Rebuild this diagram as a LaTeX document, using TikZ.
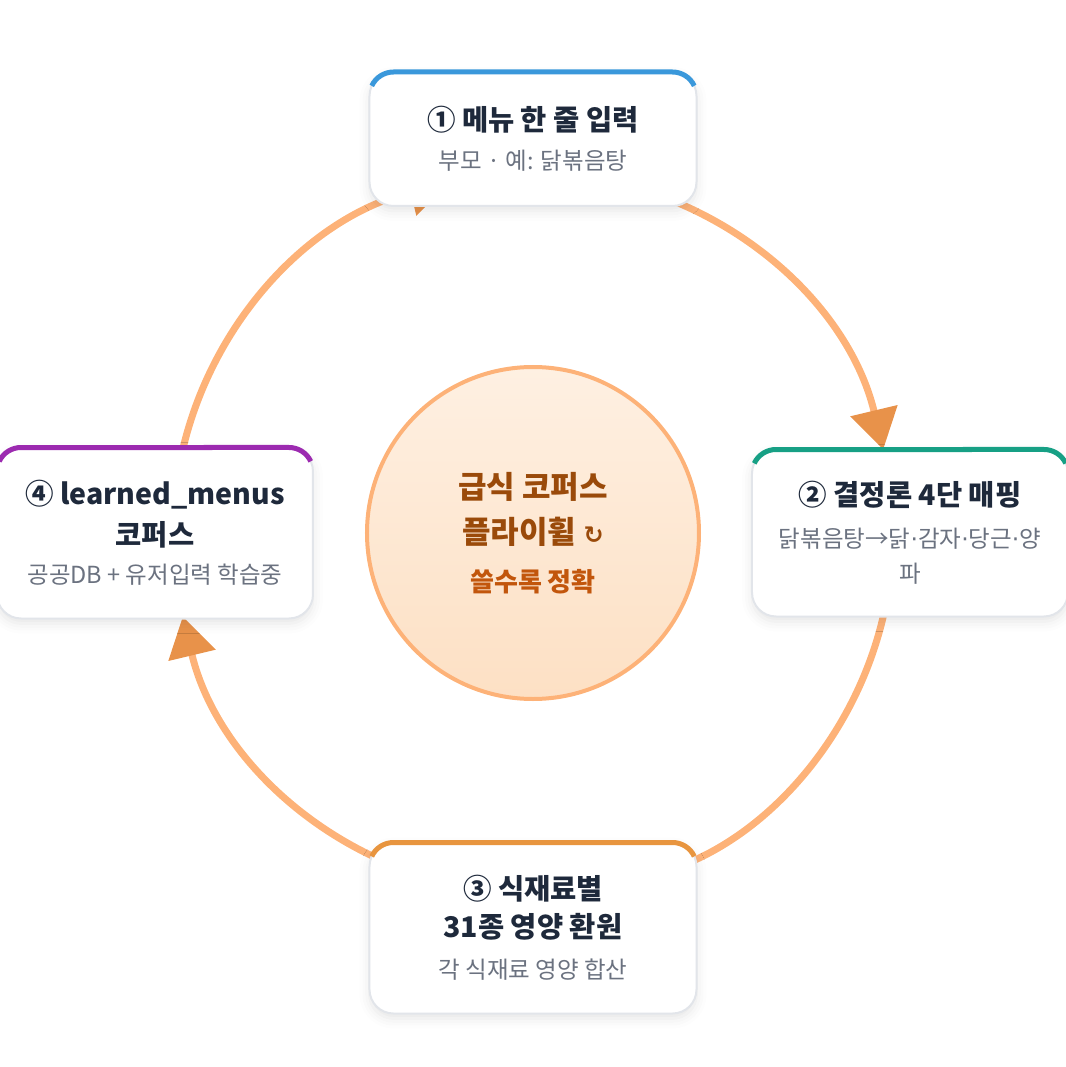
\documentclass[tikz,border=0pt]{standalone}
\usepackage{fontspec}
\setmainfont{Noto Sans CJK KR}
\newfontfamily\symfont{DejaVu Sans}
\usetikzlibrary{arrows.meta, shadows.blur}

\definecolor{titlec}{HTML}{1E293B}
\definecolor{subc}{HTML}{6B7280}
\definecolor{arcc}{HTML}{FDB278}
\definecolor{tipc}{HTML}{E8924A}
\definecolor{edgec}{HTML}{E2E5EA}
\definecolor{hubtop}{HTML}{FEF0E2}
\definecolor{hubbot}{HTML}{FDE0C4}
\definecolor{hubtxt}{HTML}{9A4A0A}
\definecolor{hubsub}{HTML}{C2560C}
\definecolor{stepblue}{HTML}{3A98DB}
\definecolor{stepteal}{HTML}{17A085}
\definecolor{steporange}{HTML}{E8953F}
\definecolor{steppurple}{HTML}{9C2AB0}

\newcommand\boxtitle{\bfseries\color{titlec}}
\newcommand\boxsub{\fontsize{23.5bp}{33bp}\selectfont\color{subc}}
\newcommand\mdot{{\symfont ·}}

\begin{document}
\begin{tikzpicture}[x=1bp, y=1bp,
  stepbox/.style={draw=edgec, line width=2bp, fill=white, rounded corners=24bp,
    outer sep=0pt, inner sep=0pt, align=center,
    font=\fontsize{28.5bp}{40bp}\selectfont,
    blur shadow={shadow xshift=0bp, shadow yshift=-5bp, shadow blur radius=10bp, shadow opacity=10}},
  topline/.style={line width=5bp, draw=#1},
  cyclearc/.style={draw=arcc, line width=7bp, -{Triangle[length=40bp, width=47bp, color=tipc]}},
]
  \useasboundingbox (-533,-534) rectangle (533,533);
  % flywheel arcs, clockwise
  \coordinate (s1) at (85:360);
  \coordinate (s2) at (-5:360);
  \coordinate (s3) at (-95:360);
  \coordinate (s4) at (175:360);
  \draw[cyclearc] (s1) arc[start angle=85, end angle=13.4, radius=360];
  \draw[cyclearc] (s2) arc[start angle=-5, end angle=-76.6, radius=360];
  \draw[cyclearc] (s3) arc[start angle=-95, end angle=-166.6, radius=360];
  \draw[cyclearc] (s4) arc[start angle=175, end angle=103.4, radius=360];
  % step boxes
  \node[stepbox, minimum width=327bp, minimum height=134bp] (menu) at (0,394)
    {{\boxtitle ① 메뉴 한 줄 입력}\\[-1bp]{\boxsub 부모 · 예: 닭볶음탕}};
  \node[stepbox, minimum width=316bp, minimum height=167bp] (mapping) at (377,0)
    {{\boxtitle ② 결정론 4단 매핑}\\[2bp]{\boxsub 닭볶음탕→닭\mdot 감자\mdot 당근\mdot 양}\\[-5bp]{\boxsub 파}};
  \node[stepbox, minimum width=327bp, minimum height=171bp] (nutri) at (0,-395)
    {{\boxtitle ③ 식재료별}\\[-2bp]{\boxtitle 31종 영양 환원}\\[1bp]{\boxsub 각 식재료 영양 합산}};
  \node[stepbox, minimum width=316bp, minimum height=171bp] (corpus) at (-378,0)
    {{\boxtitle ④ learned\_menus}\\[1bp]{\boxtitle 코퍼스}\\[-2bp]{\boxsub 공공DB + 유저입력 학습중}};
  % coloured top edges
  \draw[topline=stepblue] ([shift={(2.25,-13.86)}]menu.north west) arc[start angle=155, end angle=90, radius=24]
    -- ([xshift=-24bp]menu.north east) arc[start angle=90, end angle=25, radius=24];
  \draw[topline=stepteal] ([shift={(2.25,-13.86)}]mapping.north west) arc[start angle=155, end angle=90, radius=24]
    -- ([xshift=-24bp]mapping.north east) arc[start angle=90, end angle=25, radius=24];
  \draw[topline=steporange] ([shift={(2.25,-13.86)}]nutri.north west) arc[start angle=155, end angle=90, radius=24]
    -- ([xshift=-24bp]nutri.north east) arc[start angle=90, end angle=25, radius=24];
  \draw[topline=steppurple] ([shift={(2.25,-13.86)}]corpus.north west) arc[start angle=155, end angle=90, radius=24]
    -- ([xshift=-24bp]corpus.north east) arc[start angle=90, end angle=25, radius=24];
  % hub
  \node[circle, draw=arcc, line width=4bp, minimum size=332bp, top color=hubtop, bottom color=hubbot,
    align=center, font=\fontsize{31bp}{45bp}\selectfont\bfseries, text=hubtxt] (hub) at (0,0)
    {급식 코퍼스\\플라이휠 {\symfont\fontsize{24bp}{24bp}\selectfont ↻}\\[3bp]{\fontsize{26bp}{30bp}\selectfont\color{hubsub}쓸수록 정확}};
\end{tikzpicture}
\end{document}
